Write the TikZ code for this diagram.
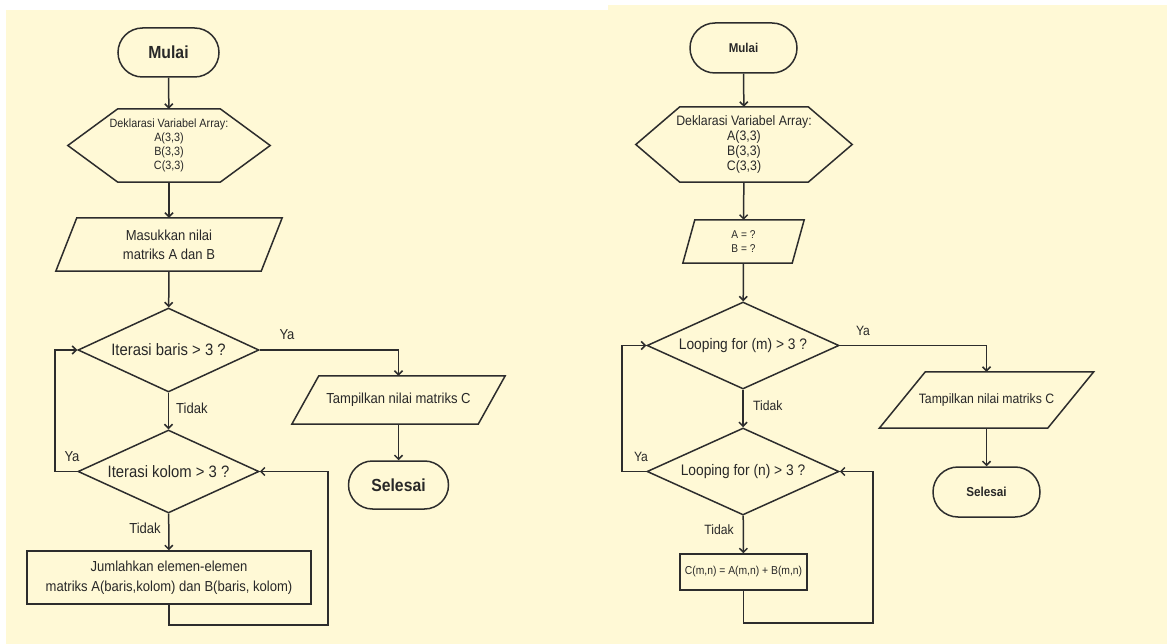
\documentclass[tikz,border=0pt]{standalone}
\usepackage{fontspec}
\setmainfont{Liberation Sans}[FakeStretch=0.9]
\usetikzlibrary{arrows.meta,shapes.geometric}
\definecolor{cream}{RGB}{255,249,214}
\definecolor{ink}{RGB}{40,40,40}
\definecolor{linec}{RGB}{45,45,45}
\newcommand\fs[2]{\fontsize{#1}{#2}\selectfont}
% outlines drawn around invisible rectangular nodes
\newcommand\hexout[2]{\draw[shapeline] (#1.west) -- ([xshift=#2pt]#1.north west) -- ([xshift=-#2pt]#1.north east) -- (#1.east) -- ([xshift=-#2pt]#1.south east) -- ([xshift=#2pt]#1.south west) -- cycle;}
\newcommand\parout[2]{\draw[shapeline] ([xshift=#2pt]#1.north west) -- (#1.north east) -- ([xshift=-#2pt]#1.south east) -- (#1.south west) -- cycle;}
\begin{document}
\begin{tikzpicture}[x=1pt,y=-1pt,
  shapeline/.style={draw=linec,line width=1.5pt,line join=miter},
  base/.style={inner sep=0pt,text=ink,align=center},
  terminal/.style={base,draw=linec,line width=1.5pt,rounded corners=#1},
  procbox/.style={base,draw=linec,line width=1.5pt},
  plainbox/.style={base,draw=none},
  decision/.style={base,shape=diamond,aspect=2.15,draw=linec,line width=1.5pt},
  arr/.style={draw=linec,line width=1.5pt,-{Straight Barb[length=4pt,width=8pt]}},
  lbl/.style={text=ink,inner sep=0pt}]
\useasboundingbox (0,0) rectangle (1167,644);
% page background
\fill[cream] (0,0) rectangle (1167,644);
\fill[white] (0,0) rectangle (608,10);
\fill[white] (608,0) rectangle (1167,5);
\fill[white] (0,0) rectangle (6,644);

% ---------------- first flowchart ----------------
\node[terminal=24.5pt,minimum width=101pt,minimum height=49pt,font=\fs{17.5}{20}\bfseries] (Lstart) at (168.5,52.5) {Mulai};
\node[plainbox,minimum width=202pt,minimum height=73pt,font=\fs{12}{14}] (Ldecl) at (169,145.5) {Deklarasi Variabel Array:\\A(3,3)\\B(3,3)\\C(3,3)};
\hexout{Ldecl}{50}
\node[plainbox,minimum width=226pt,minimum height=53pt,font=\fs{14.5}{19}] (Linput) at (169,244.5) {Masukkan nilai\\matriks A dan B};
\parout{Linput}{21}
\node[decision,minimum width=181pt,minimum height=84pt,font=\fs{16.5}{19}] (Ld1) at (168.5,350) {Iterasi baris > 3 ?};
\node[decision,minimum width=181pt,minimum height=83pt,font=\fs{16.5}{19}] (Ld2) at (168.5,471.5) {Iterasi kolom > 3 ?};
\node[procbox,minimum width=284pt,minimum height=53pt,font=\fs{14.5}{20}] (Lsum) at (169,577.5) {Jumlahkan elemen-elemen\\matriks A(baris,kolom) dan B(baris, kolom)};
\node[plainbox,minimum width=213pt,minimum height=48pt,font=\fs{14.5}{17}] (Lout) at (398.5,400) {Tampilkan nilai matriks C};
\parout{Lout}{27}
\node[terminal=24pt,minimum width=100pt,minimum height=48pt,font=\fs{17.5}{20}\bfseries] (Lend) at (398.5,485) {Selesai};

\coordinate (Lll) at (55,471.5);
\coordinate (Llr) at (328,625);

\draw[arr] (Lstart) -- (Ldecl);
\draw[arr] (Ldecl) -- (Linput);
\draw[arr] (Linput) -- (Ld1);
\draw[arr] (Ld1.east) -| (Lout.north);
\draw[arr] (Lout) -- (Lend);
\draw[arr] (Ld1) -- (Ld2);
\draw[arr] (Ld2) -- (Lsum);
\draw[arr] (Ld2.west) -- (Lll) |- (Ld1.west);
\draw[arr] (Lsum.south) |- (Llr) |- (Ld2.east);

\node[lbl,font=\fs{14.5}{17}] (LyaA) at (287,335) {Ya};
\node[lbl,font=\fs{14.5}{17},anchor=west] (LtdA) at (176,408) {Tidak};
\node[lbl,font=\fs{14.5}{17}] (LyaB) at (72,457) {Ya};
\node[lbl,font=\fs{14.5}{17}] (LtdB) at (145,528) {Tidak};

% ---------------- second flowchart ----------------
\node[terminal=25pt,minimum width=107pt,minimum height=50pt,font=\fs{12.8}{15}\bfseries] (Rstart) at (743.5,48) {Mulai};
\node[plainbox,minimum width=216pt,minimum height=75pt,font=\fs{13.7}{15}] (Rdecl) at (744,144.5) {Deklarasi Variabel Array:\\A(3,3)\\B(3,3)\\C(3,3)};
\hexout{Rdecl}{44}
\node[plainbox,minimum width=121pt,minimum height=43pt,font=\fs{11.3}{14}] (Rinput) at (743.5,241.5) {A = ?\\B = ?};
\parout{Rinput}{12}
\node[decision,minimum width=192pt,minimum height=87pt,font=\fs{15.3}{18}] (Rd1) at (743,345.5) {Looping for (m) > 3 ?};
\node[decision,minimum width=192pt,minimum height=87pt,font=\fs{15.3}{18}] (Rd2) at (743,471.5) {Looping for (n) > 3 ?};
\node[procbox,minimum width=127pt,minimum height=36pt,font=\fs{11.5}{14}] (Rcalc) at (743.5,572) {C(m,n) = A(m,n) + B(m,n)};
\node[plainbox,minimum width=214pt,minimum height=56pt,font=\fs{13.6}{16}] (Rout) at (986.5,400) {Tampilkan nilai matriks C};
\parout{Rout}{46}
\node[terminal=25pt,minimum width=107pt,minimum height=50pt,font=\fs{13}{15}\bfseries] (Rend) at (986.5,492) {Selesai};

\coordinate (Rll) at (622,471.5);
\coordinate (Rlr) at (873,623);

\draw[arr] (Rstart) -- (Rdecl);
\draw[arr] (Rdecl) -- (Rinput);
\draw[arr] (Rinput) -- (Rd1);
\draw[arr] (Rd1.east) -| (Rout.north);
\draw[arr] (Rout) -- (Rend);
\draw[arr] (Rd1) -- (Rd2);
\draw[arr] (Rd2) -- (Rcalc);
\draw[arr] (Rd2.west) -- (Rll) |- (Rd1.west);
\draw[arr] (Rcalc.south) |- (Rlr) |- (Rd2.east);

\node[lbl,font=\fs{13.5}{16}] (RyaA) at (863,331) {Ya};
\node[lbl,font=\fs{13.5}{16},anchor=west] (RtdA) at (753,406) {Tidak};
\node[lbl,font=\fs{13.5}{16}] (RyaB) at (641,457) {Ya};
\node[lbl,font=\fs{13.5}{16}] (RtdB) at (719,530) {Tidak};
\end{tikzpicture}
\end{document}
